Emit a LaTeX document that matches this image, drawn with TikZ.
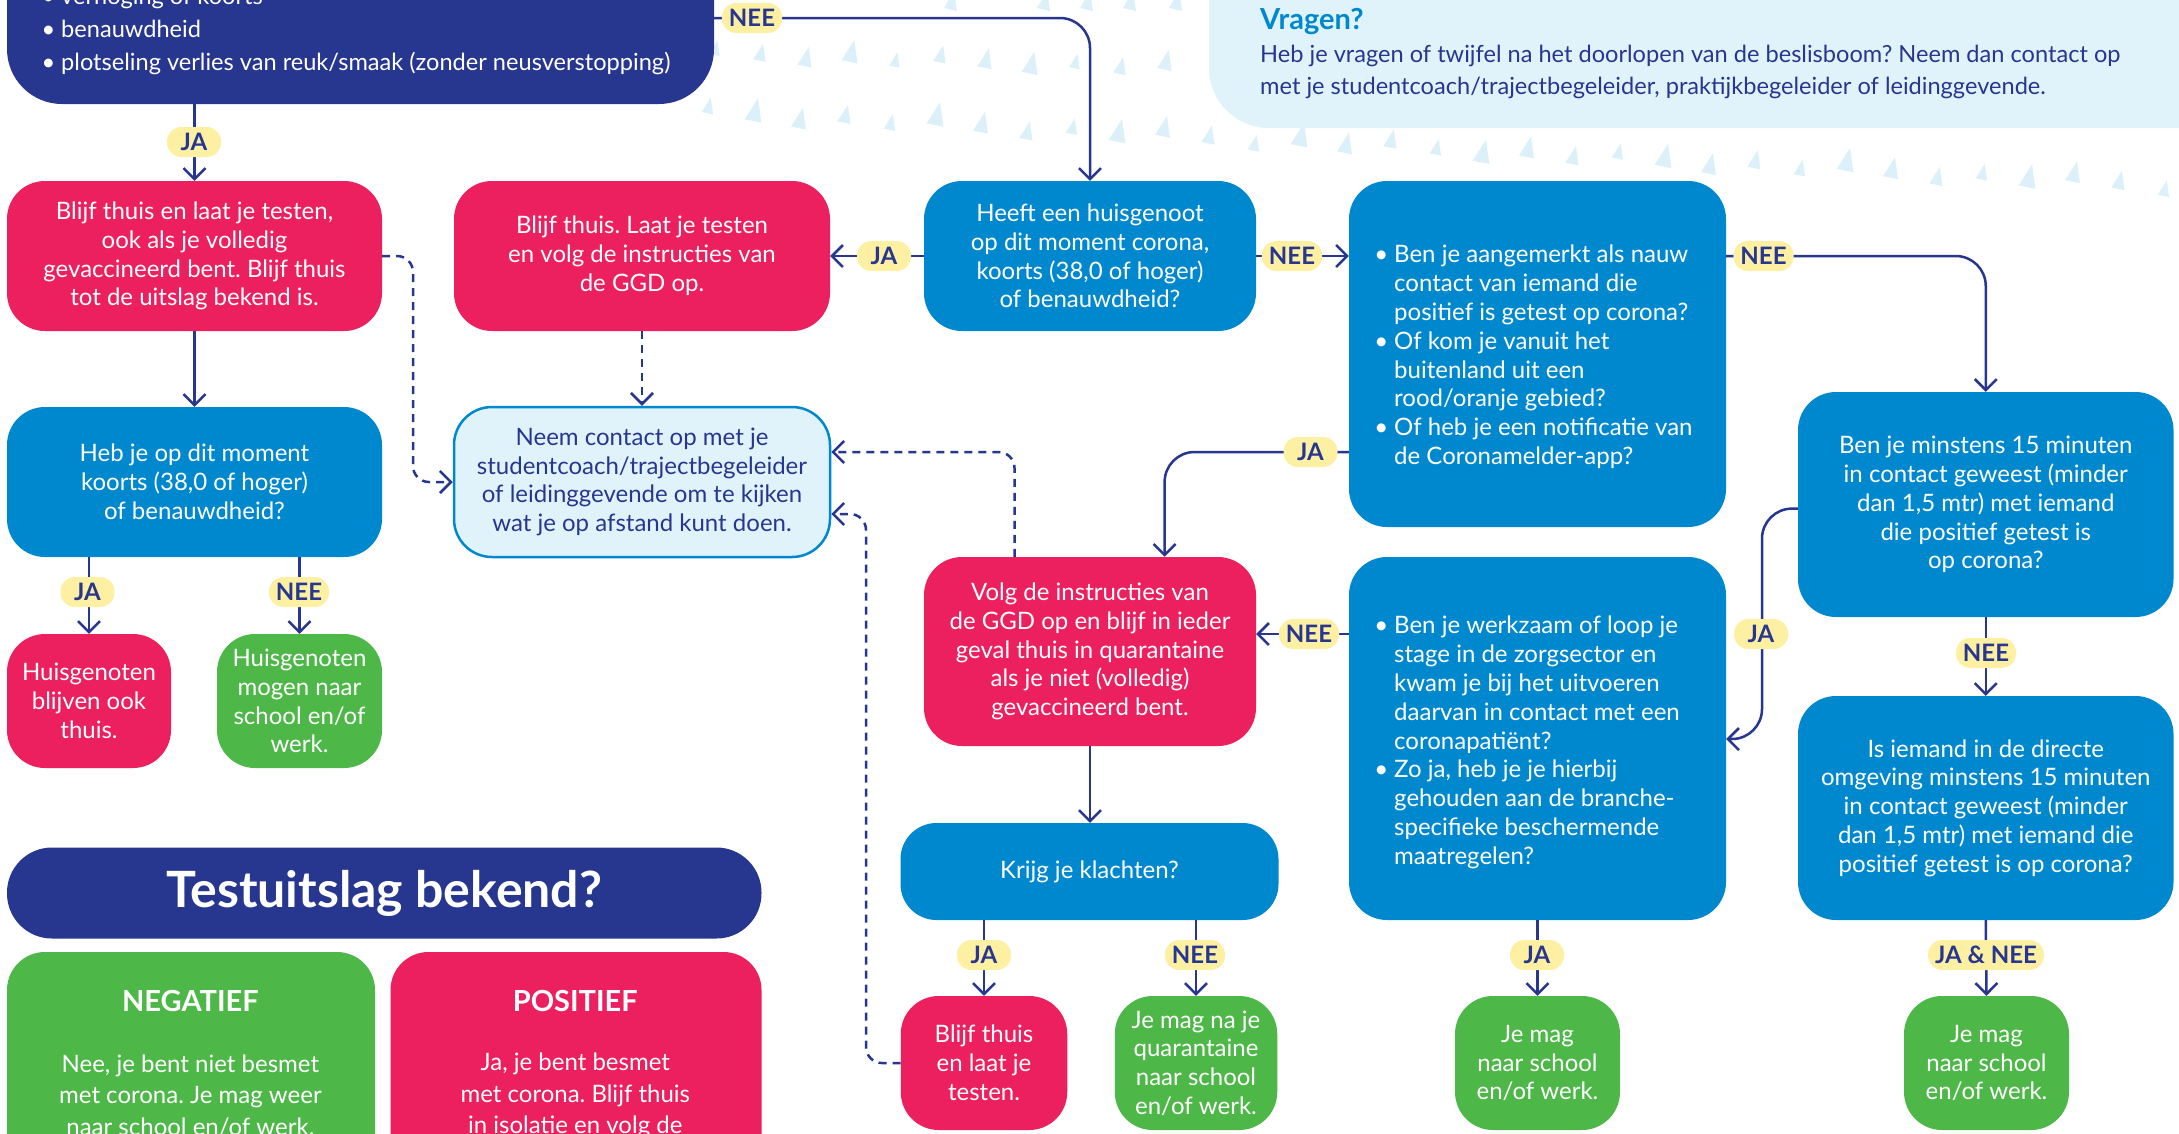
\documentclass[tikz,border=0pt]{standalone}
\usepackage{fontspec}
\setmainfont{Lato}
\usetikzlibrary{arrows.meta,calc}
\definecolor{cnavy}{HTML}{27368F}
\definecolor{cblue}{HTML}{0088CF}
\definecolor{cred}{HTML}{EC1F5F}
\definecolor{cgreen}{HTML}{4DB848}
\definecolor{clight}{HTML}{E0F3FB}
\definecolor{cyel}{HTML}{FEF0A2}
\definecolor{ctri}{HTML}{DCF0FA}
\newcommand{\bodyfont}{\fontsize{24}{28.8}\selectfont}
\newcommand{\bul}{\llap{•\hspace{6pt}}}
\frenchspacing
\begin{document}
\frenchspacing
\begin{tikzpicture}[x=1pt,y=-1pt,
  box/.style={rectangle, rounded corners=38pt, inner sep=0pt, align=center, text=white, font=\bodyfont},
  redbox/.style={box, fill=cred},
  bluebox/.style={box, fill=cblue},
  greenbox/.style={box, fill=cgreen},
  lightbox/.style={box, fill=clight, draw=cblue, line width=2.5pt, text=cnavy},
  navybox/.style={box, fill=cnavy},
  txt/.style={inner sep=0pt, align=left, text=white, font=\bodyfont},
  lbl/.style={rectangle, rounded corners=14.5pt, fill=cyel, text=cnavy, font=\fontsize{24}{24}\selectfont\bfseries, minimum height=30pt, minimum width=54pt, inner xsep=7pt, inner ysep=0pt},
  conn/.style={draw=cnavy, line width=2.5pt, rounded corners=30pt, -{Straight Barb[length=11pt,width=22pt]}},
  dconn/.style={conn, dash pattern=on 8pt off 6pt, rounded corners=16pt},
  tri/.style={fill=ctri},
]
\useasboundingbox (0,0) rectangle (2179,1133);
\clip (0,0) rectangle (2179,1133);
\fill[white] (0,0) rectangle (2179,1133);

% decorative triangles
\foreach \i in {0,...,32} {
  \pgfmathsetmacro\tx{707+45.5*\i}
  \pgfmathsetmacro\ty{112+0.05*(\tx-707)+mod(\i*7,5)*2.5}
  \pgfmathsetmacro\ts{0.75+mod(\i*3,4)*0.12}
  \fill[tri] (\tx,\ty) ++(-7*\ts,0) -- ++(15*\ts,3*\ts) -- ++(-3*\ts,-22*\ts) -- cycle;
}
\foreach \i in {0,...,10} {
  \pgfmathsetmacro\tx{714+45*\i}
  \pgfmathsetmacro\ty{54+1.4*\i+mod(\i*7,5)*2}
  \pgfmathsetmacro\ts{0.7+mod(\i*5,4)*0.12}
  \fill[tri] (\tx,\ty) ++(-7*\ts,0) -- ++(15*\ts,3*\ts) -- ++(-3*\ts,-22*\ts) -- cycle;
}
\foreach \tx in {950,1043,1086,1129,1175} {
  \fill[tri] (\tx,8) ++(-6,0) -- ++(13,3) -- ++(-3,-20) -- cycle;
}

% boxes
\node[navybox, rounded corners=55pt, minimum width=707pt, minimum height=228pt] (n0) at (360.5,-10) {};
\node[txt, anchor=west, font=\fontsize{23.6}{33}\selectfont] (n0t) at (61,31) {\bul verhoging of koorts\\\bul benauwdheid\\\bul plotseling verlies van reuk/smaak (zonder neusverstopping)};

\node[box, fill=clight, rounded corners=60pt, minimum width=1051pt, minimum height=228pt] (vq) at (1734.5,14) {};
\node[txt, anchor=west, text=cblue, font=\fontsize{29}{29}\selectfont\bfseries] (vqh) at (1260,22) {Vragen?};
\node[txt, anchor=west, text=cnavy, font=\fontsize{23.6}{32}\selectfont] (vqb) at (1260,72) {Heb je vragen of twijfel na het doorlopen van de beslisboom? Neem dan contact op\\met je studentcoach/trajectbegeleider, praktijkbegeleider of leidinggevende.};

\node[redbox, minimum width=375pt, minimum height=150pt] (r1) at (194.5,256) {Blijf thuis en laat je testen,\\ook als je volledig\\gevaccineerd bent. Blijf thuis\\tot de uitslag bekend is.};
\node[bluebox, minimum width=375pt, minimum height=150pt] (b1) at (194.5,482) {Heb je op dit moment\\koorts (38,0 of hoger)\\of benauwdheid?};
\node[redbox, minimum width=164pt, minimum height=134pt] (hr) at (89,701) {Huisgenoten\\blijven ook\\thuis.};
\node[greenbox, minimum width=165pt, minimum height=134pt] (hg) at (299.5,701) {Huisgenoten\\mogen naar\\school en/of\\werk.};
\node[redbox, minimum width=376pt, minimum height=150pt] (r2) at (642,256) {Blijf thuis. Laat je testen\\en volg de instructies van\\de GGD op.};
\node[lightbox, minimum width=376pt, minimum height=150pt] (l1) at (642,482) {Neem contact op met je\\studentcoach/trajectbegeleider\\of leidinggevende om te kijken\\wat je op afstand kunt doen.};
\node[bluebox, minimum width=332pt, minimum height=150pt] (b2) at (1090,256) {Heeft een huisgenoot\\op dit moment corona,\\koorts (38,0 of hoger)\\of benauwdheid?};
\node[bluebox, minimum width=377pt, minimum height=346pt] (b3) at (1537.5,354) {};
\node[txt, anchor=west] (b3t) at (1394,357) {\bul Ben je aangemerkt als nauw\\contact van iemand die\\positief is getest op corona?\\\bul Of kom je vanuit het\\buitenland uit een\\rood/oranje gebied?\\\bul Of heb je een notificatie van\\de Coronamelder-app?};
\node[bluebox, minimum width=375.5pt, minimum height=225pt] (b4) at (1985.75,504.5) {Ben je minstens 15 minuten\\in contact geweest (minder\\dan 1,5 mtr) met iemand\\die positief getest is\\op corona?};
\node[redbox, minimum width=332pt, minimum height=189pt] (r3) at (1090,651.5) {Volg de instructies van\\de GGD op en blijf in ieder\\geval thuis in quarantaine\\als je niet (volledig)\\gevaccineerd bent.};
\node[bluebox, minimum width=377pt, minimum height=363pt] (b5) at (1537.5,738.5) {};
\node[txt, anchor=west] (b5t) at (1394,742.5) {\bul Ben je werkzaam of loop je\\stage in de zorgsector en\\kwam je bij het uitvoeren\\daarvan in contact met een\\coronapatiënt?\\\bul Zo ja, heb je je hierbij\\gehouden aan de branche-\\specifieke beschermende\\maatregelen?};
\node[bluebox, rounded corners=36pt, minimum width=378pt, minimum height=97pt] (b6) at (1089.5,871.5) {Krijg je klachten?};
\node[redbox, minimum width=166.5pt, minimum height=134pt] (bt) at (984,1063) {Blijf thuis\\en laat je\\testen.};
\node[greenbox, minimum width=162.5pt, minimum height=134pt] (gq) at (1196,1063) {Je mag na je\\quarantaine\\naar school\\en/of werk.};
\node[greenbox, minimum width=165pt, minimum height=134pt] (g2) at (1537.5,1063) {Je mag\\naar school\\en/of werk.};
\node[bluebox, minimum width=375.5pt, minimum height=224pt] (b7) at (1985.75,808) {Is iemand in de directe\\omgeving minstens 15 minuten\\in contact geweest (minder\\dan 1,5 mtr) met iemand die\\positief getest is op corona?};
\node[greenbox, minimum width=165pt, minimum height=134pt] (g3) at (1986.5,1063) {Je mag\\naar school\\en/of werk.};

\node[navybox, rounded corners=45pt, minimum width=754.5pt, minimum height=91pt, font=\fontsize{50}{50}\selectfont\bfseries] (tp) at (384.25,893) {Testuitslag bekend?};
\node[greenbox, minimum width=368pt, minimum height=298pt] (neg) at (191,1101) {};
\node[txt, align=center, font=\fontsize{29}{29}\selectfont\bfseries] (negh) at (190.4,1001.5) {NEGATIEF};
\node[txt, align=center, font=\fontsize{24}{31.3}\selectfont] (negb) at (190.4,1095.5) {Nee, je bent niet besmet\\met corona. Je mag weer\\naar school en/of werk.};
\node[redbox, minimum width=371pt, minimum height=298pt] (pos) at (576,1101) {};
\node[txt, align=center, font=\fontsize{29}{29}\selectfont\bfseries] (posh) at (575.3,1001.5) {POSITIEF};
\node[txt, align=center, font=\fontsize{24}{31.3}\selectfont] (posb) at (575.3,1095.5) {Ja, je bent besmet\\met corona. Blijf thuis\\in isolatie en volg de};

% helper coordinates
\coordinate (y18) at (0,18);
\coordinate (ya) at (0,452);
\coordinate (yb) at (0,634);
\coordinate (yc) at (0,508.6);
\coordinate (dx1) at (413,256);
\coordinate (dx2) at (866,514);
\coordinate (jx) at (1762,739);

% connectors
\draw[conn] (n0.east |- y18) -| (b2.north);
\draw[conn] (r1.north |- n0.south) -- (r1.north);
\draw[conn] (r1.south) -- (b1.north);
\draw[conn] (hr.north |- b1.south) -- (hr.north);
\draw[conn] (hg.north |- b1.south) -- (hg.north);
\draw[dconn] (r1.east) -- (dx1) |- (l1.west);
\draw[dconn] (r2.south) -- (l1.north);
\draw[conn] (b2.west) -- (r2.east);
\draw[conn] (b2.east) -- (b2.east -| b3.west);
\draw[conn] (b3.east |- b2.east) -| (b4.north);
\draw[conn] (b3.west |- ya) -| ([xshift=74.6pt]r3.north);
\draw[dconn] ([xshift=-75.5pt]r3.north) |- (l1.east |- ya);
\draw[conn] (r3.south) -- (r3.south |- b6.north);
\draw[conn] (b5.west |- yb) -- (r3.east |- yb);
\draw[conn] (b4.west |- yc) -| (jx) -- (b5.east |- jx);
\draw[conn] (b4.south) -- (b7.north);
\draw[conn] (bt.north |- b6.south) -- (bt.north);
\draw[conn] (gq.north |- b6.south) -- (gq.north);
\draw[dconn] (bt.west) -| (dx2) -- (l1.east |- dx2);
\draw[conn] (b5.south) -- (g2.north);
\draw[conn] (b7.south) -- (g3.north);

% labels
\node[lbl] (lnee1) at (752,18) {NEE};
\node[lbl] (lja1) at (194,142) {JA};
\node[lbl] (lja2) at (87.5,592) {JA};
\node[lbl] (lnee2) at (299,592) {NEE};
\node[lbl] (lja3) at (884,256) {JA};
\node[lbl] (lnee3) at (1292,256) {NEE};
\node[lbl] (lnee4) at (1763.5,256) {NEE};
\node[lbl] (lja4) at (1310.5,452) {JA};
\node[lbl] (lnee5) at (1309,634) {NEE};
\node[lbl] (lja5) at (1761,634) {JA};
\node[lbl] (lnee6) at (1986,653) {NEE};
\node[lbl] (lja6) at (984,955) {JA};
\node[lbl] (lnee7) at (1195,955) {NEE};
\node[lbl] (lja7) at (1537,955) {JA};
\node[lbl] (ljanee) at (1986,955) {JA \& NEE};
\end{tikzpicture}
\end{document}
